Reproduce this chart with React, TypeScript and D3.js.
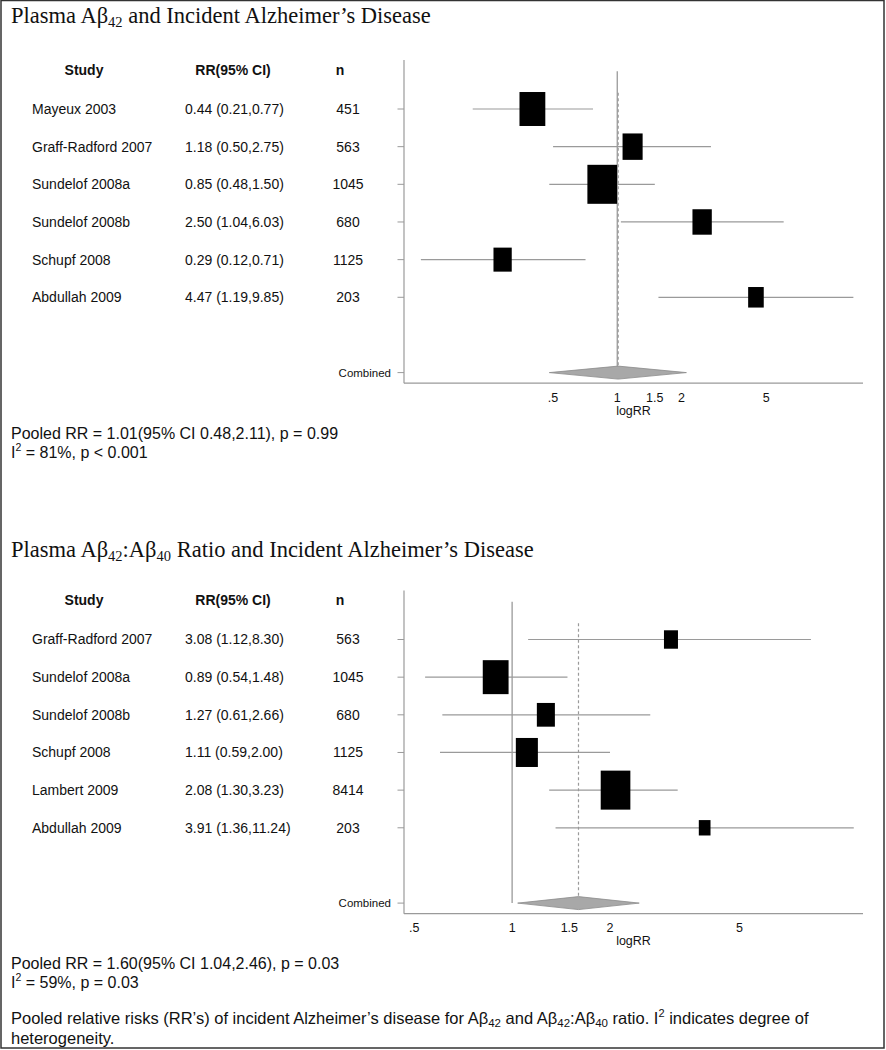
import React from 'react';
import * as d3 from 'd3';

const W = 886;
const H = 1050;

// ---------- Panel 1: Plasma Aβ42 ----------
const studies1 = ['Mayeux 2003', 'Graff-Radford 2007', 'Sundelof 2008a', 'Sundelof 2008b', 'Schupf 2008', 'Abdullah 2009'];
const ciText1 = ['0.44 (0.21,0.77)', '1.18 (0.50,2.75)', '0.85 (0.48,1.50)', '2.50 (1.04,6.03)', '0.29 (0.12,0.71)', '4.47 (1.19,9.85)'];
const n1 = [451, 563, 1045, 680, 1125, 203];
const est1 = [0.40, 1.18, 0.85, 2.50, 0.29, 4.47];
const lo1 = [0.21, 0.50, 0.48, 1.04, 0.12, 1.56];
const hi1 = [0.77, 2.75, 1.50, 6.03, 0.71, 12.8];
const weight1 = [23.0, 13.9, 30.3, 12.9, 11.5, 8.4];
const pooled1 = { est: 1.01, lo: 0.48, hi: 2.11 };
const pooledText1 = ['Pooled RR = 1.01(95% CI 0.48,2.11), p = 0.99', ' = 81%, p < 0.001'];
const xDomain1: [number, number] = [0.1, 14.2];

// ---------- Panel 2: Plasma Aβ42:Aβ40 ratio ----------
const studies2 = ['Graff-Radford 2007', 'Sundelof 2008a', 'Sundelof 2008b', 'Schupf 2008', 'Lambert 2009', 'Abdullah 2009'];
const ciText2 = ['3.08 (1.12,8.30)', '0.89 (0.54,1.48)', '1.27 (0.61,2.66)', '1.11 (0.59,2.00)', '2.08 (1.30,3.23)', '3.91 (1.36,11.24)'];
const n2 = [563, 1045, 680, 1125, 8414, 203];
const est2 = [3.08, 0.89, 1.27, 1.11, 2.08, 3.91];
const lo2 = [1.12, 0.54, 0.61, 0.60, 1.30, 1.36];
const hi2 = [8.30, 1.48, 2.66, 2.00, 3.23, 11.24];
const weight2 = [7.3, 24.8, 12.1, 18.1, 32.7, 5.1];
const pooled2 = { est: 1.60, lo: 1.04, hi: 2.46 };
const pooledText2 = ['Pooled RR = 1.60(95% CI 1.04,2.46), p = 0.03', ' = 59%, p = 0.03'];
const xDomain2: [number, number] = [0.465, 12.0];

const tickValues = [0.5, 1, 1.5, 2, 5];
const tickLabels = ['.5', '1', '1.5', '2', '5'];

const SANS = '"Liberation Sans", Arial, Helvetica, sans-serif';
const SERIF = '"Liberation Serif", "Times New Roman", Times, serif';
const GRAY = '#9a9a9a';

type PanelProps = {
  dy: number;
  titleParts: React.ReactNode;
  studies: string[];
  ciText: string[];
  n: number[];
  est: number[];
  lo: number[];
  hi: number[];
  weight: number[];
  pooled: { est: number; lo: number; hi: number };
  pooledText: string[];
  xDomain: [number, number];
};

function Panel(p: PanelProps) {
  const x = d3.scaleLog().domain(p.xDomain).range([404, 863]);
  const y = d3.scaleLinear().domain([0, 7]).range([109 + p.dy, 372.6 + p.dy]);
  const maxW = d3.max(p.weight) as number;
  const boxH = d3.scaleSqrt().domain([0, maxW]).range([0, 39]);
  const axisY = y(7.28);
  const axisTop = y(-1.3);
  const diamond = d3.line<[number, number]>()([
    [x(p.pooled.lo), y(7)],
    [x(p.pooled.est), y(7) - 6.5],
    [x(p.pooled.hi), y(7)],
    [x(p.pooled.est), y(7) + 6.5],
  ]) as string;
  return (
    <g>
      <text x={11} y={23 + (p.dy === 0 ? 0 : 534)} fontFamily={SERIF} fontSize={22.5} fill="#111">
        {p.titleParts}
      </text>
      {/* headers */}
      <g fontFamily={SANS} fontSize={14} fontWeight="bold" fill="#111" textAnchor="middle">
        <text x={84} y={y(-1.04)} dy="0.35em">Study</text>
        <text x={233} y={y(-1.04)} dy="0.35em">RR(95% CI)</text>
        <text x={340} y={y(-1.04)} dy="0.35em">n</text>
      </g>
      {/* rows text */}
      <g fontFamily={SANS} fontSize={14} fill="#111">
        {p.studies.map((s, i) => (
          <g key={s}>
            <text x={32} y={y(i)} dy="0.35em">{s}</text>
            <text x={185} y={y(i)} dy="0.35em">{p.ciText[i]}</text>
            <text x={348} y={y(i)} dy="0.35em" textAnchor="middle">{p.n[i]}</text>
          </g>
        ))}
      </g>
      {/* axes */}
      <line x1={404} x2={404} y1={axisTop} y2={axisY} stroke={GRAY} strokeWidth={1.2} />
      <line x1={404} x2={x.range()[1]} y1={axisY} y2={axisY} stroke={GRAY} strokeWidth={1.2} />
      {[0, 1, 2, 3, 4, 5, 7].map((i) => (
        <line key={i} x1={397.5} x2={404} y1={y(i)} y2={y(i)} stroke={GRAY} strokeWidth={1} />
      ))}
      <text x={391} y={y(7)} dy="0.35em" textAnchor="end" fontFamily={SANS} fontSize={11.5} fill="#111">Combined</text>
      <g fontFamily={SANS} fontSize={12.5} fill="#111" textAnchor="middle">
        {tickValues.map((v, i) => (
          <text key={v} x={x(v)} y={axisY + 14} dy="0.35em">{tickLabels[i]}</text>
        ))}
        <text x={(x.range()[0] + x.range()[1]) / 2} y={axisY + 27} dy="0.35em">logRR</text>
      </g>
      {/* null line and pooled line */}
      <line x1={x(1)} x2={x(1)} y1={y(-1)} y2={y(7)} stroke={GRAY} strokeWidth={1.3} />
      <line x1={x(p.pooled.est)} x2={x(p.pooled.est)} y1={y(-0.43)} y2={y(7) - 6.5} stroke={GRAY} strokeWidth={1.2} strokeDasharray="3,2.5" />
      {/* whiskers and boxes */}
      {p.studies.map((s, i) => {
        const h = boxH(p.weight[i]);
        const w = h * 0.76;
        return (
          <g key={s}>
            <line x1={x(p.lo[i])} x2={x(p.hi[i])} y1={y(i)} y2={y(i)} stroke={GRAY} strokeWidth={1.2} />
            <rect x={x(p.est[i]) - w / 2} y={y(i) - h / 2} width={w} height={h} fill="#000" />
          </g>
        );
      })}
      <path d={diamond + 'Z'} fill="#a8a8a8" stroke="#8c8c8c" strokeWidth={0.8} />
      {/* pooled text */}
      <g fontFamily={SANS} fontSize={16} fill="#111">
        <text x={11} y={433 + p.dy} dy="0.35em">{p.pooledText[0]}</text>
        <text x={11} y={452 + p.dy} dy="0.35em">
          I<tspan fontSize={10.5} dy={-7}>2</tspan>
          <tspan dy={7}>{p.pooledText[1]}</tspan>
        </text>
      </g>
    </g>
  );
}

export default function App() {
  const sub = (t: string) => (
    <tspan fontSize={14.5} dy={4}>{t}</tspan>
  );
  const title1 = (
    <>
      Plasma Aβ{sub('42')}
      <tspan dy={-4}> and Incident Alzheimer’s Disease</tspan>
    </>
  );
  const title2 = (
    <>
      Plasma Aβ{sub('42')}
      <tspan dy={-4}>:Aβ</tspan>
      {sub('40')}
      <tspan dy={-4}> Ratio and Incident Alzheimer’s Disease</tspan>
    </>
  );
  return (
    <svg width={W} height={H} style={{ position: 'absolute', left: 0, top: 0, background: '#fff' }}>
      <rect x={0} y={0} width={W} height={H} fill="#fff" />
      <rect x={1} y={0.5} width={883} height={1047.5} fill="none" stroke="#333" strokeWidth={1.5} />
      <Panel dy={0} titleParts={title1} studies={studies1} ciText={ciText1} n={n1} est={est1} lo={lo1} hi={hi1}
        weight={weight1} pooled={pooled1} pooledText={pooledText1} xDomain={xDomain1} />
      <Panel dy={530.5} titleParts={title2} studies={studies2} ciText={ciText2} n={n2} est={est2} lo={lo2} hi={hi2}
        weight={weight2} pooled={pooled2} pooledText={pooledText2} xDomain={xDomain2} />
      <g fontFamily={SANS} fontSize={16.5} fill="#111">
        <text x={11} y={1018} dy="0.35em">
          Pooled relative risks (RR’s) of incident Alzheimer’s disease for Aβ
          <tspan fontSize={11.5} dy={3}>42</tspan>
          <tspan dy={-3}> and Aβ</tspan>
          <tspan fontSize={11.5} dy={3}>42</tspan>
          <tspan dy={-3}>:Aβ</tspan>
          <tspan fontSize={11.5} dy={3}>40</tspan>
          <tspan dy={-3}> ratio. I</tspan>
          <tspan fontSize={11} dy={-7}>2</tspan>
          <tspan dy={7}> indicates degree of</tspan>
        </text>
        <text x={11} y={1038} dy="0.35em">heterogeneity.</text>
      </g>
    </svg>
  );
}
